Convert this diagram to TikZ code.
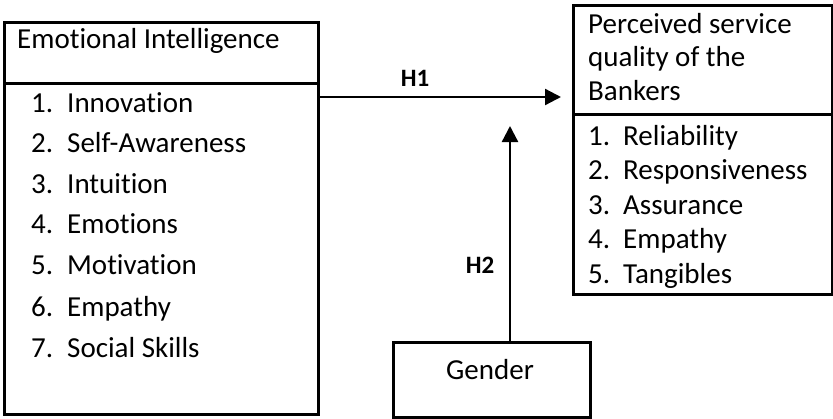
\documentclass[tikz,border=0pt]{standalone}
\usepackage{fontspec}
\setmainfont[Ligatures={NoCommon}]{Carlito}
\usetikzlibrary{arrows.meta}
\begin{document}
\begin{tikzpicture}[x=1pt,y=-1pt,
  boxshape/.style={draw, line width=2.7pt, rectangle, inner sep=0pt, anchor=north west},
  txt/.style={inner sep=0pt, anchor=base west, font=\fontsize{29}{34}\selectfont},
  lbl/.style={inner sep=0pt, anchor=base, font=\fontsize{25}{30}\selectfont\bfseries},
  arr/.style={line width=2.3pt, -{Triangle[length=16pt,width=16pt]}}]
\useasboundingbox (0,0) rectangle (833,418);
% left box
\node[boxshape, minimum width=314pt, minimum height=61pt] (eiH) at (3,21) {};
\node[boxshape, minimum width=314pt, minimum height=331pt] (eiL) at (3,82) {};
\node[txt] (eit) at (17,48) {Emotional Intelligence};
\node[txt] (e1n) at (31,112) {1.}; \node[txt] (e1) at (67,112) {Innovation};
\node[txt] (e2n) at (31,152.5) {2.}; \node[txt] (e2) at (67,152.5) {Self-Awareness};
\node[txt] (e3n) at (31,193) {3.}; \node[txt] (e3) at (67,193) {Intuition};
\node[txt] (e4n) at (31,233.5) {4.}; \node[txt] (e4) at (67,233.5) {Emotions};
\node[txt] (e5n) at (31,274.5) {5.}; \node[txt] (e5) at (67,274.5) {Motivation};
\node[txt] (e6n) at (31,316) {6.}; \node[txt] (e6) at (67,316) {Empathy};
\node[txt] (e7n) at (31,357) {7.}; \node[txt] (e7) at (67,357) {Social Skills};
% right box
\node[boxshape, minimum width=259pt, minimum height=109pt] (psH) at (572,4) {};
\node[boxshape, minimum width=259pt, minimum height=180pt] (psL) at (572,113) {};
\node[txt] (p1t) at (588,33) {Perceived service};
\node[txt] (p2t) at (588,66.5) {quality of the};
\node[txt] (p3t) at (588,100) {Bankers};
\node[txt] (r1n) at (588,145) {1.}; \node[txt] (r1) at (623,145) {Reliability};
\node[txt] (r2n) at (588,179.5) {2.}; \node[txt] (r2) at (623,179.5) {Responsiveness};
\node[txt] (r3n) at (588,214) {3.}; \node[txt] (r3) at (623,214) {Assurance};
\node[txt] (r4n) at (588,248.5) {4.}; \node[txt] (r4) at (623,248.5) {Empathy};
\node[txt] (r5n) at (588,283) {5.}; \node[txt] (r5) at (623,283) {Tangibles};
% gender
\node[boxshape, minimum width=197pt, minimum height=75pt] (g) at (392,341) {};
\node[txt, anchor=base] (gt) at (490,379) {Gender};
% connectors
\coordinate (h1end) at (561,97);
\coordinate (h2end) at (510,126);
\draw[arr] (eiL.east |- h1end) -- (h1end);
\draw[arr] (h2end |- g.north) -- (h2end);
\node[lbl] (h1) at (415,86) {H1};
\node[lbl] (h2) at (480,273) {H2};
\end{tikzpicture}
\end{document}
